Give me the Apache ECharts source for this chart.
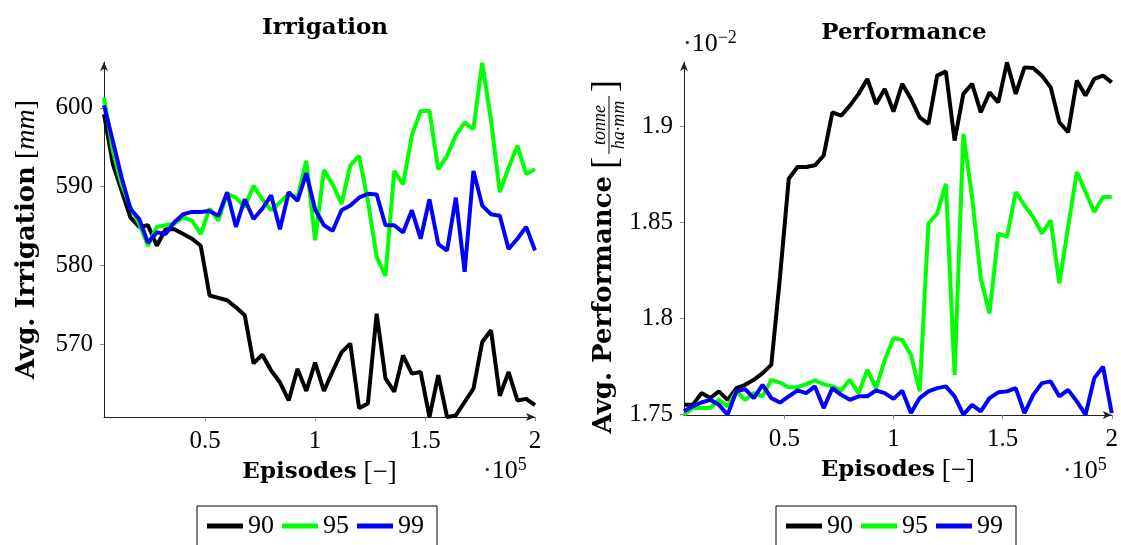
<!DOCTYPE html>
<html>
<head>
<meta charset="utf-8">
<script src="https://cdn.jsdelivr.net/npm/echarts@6/dist/echarts.min.js"></script>
<style>
  html, body { margin: 0; padding: 0; background: #fff; }
  #main { width: 1121px; height: 545px; }
</style>
</head>
<body>
<div id="main"></div>
<script>
// episodes in thousands
var episodes = [4, 8, 12, 16, 20, 24, 28, 32, 36, 40, 44, 48, 52, 56, 60, 64, 68, 72, 76, 80,
  84, 88, 92, 96, 100, 104, 108, 112, 116, 120, 124, 128, 132, 136, 140, 144, 148, 152, 156, 160,
  164, 168, 172, 176, 180, 184, 188, 192, 196, 200];
var seriesNames = ['90', '95', '99'];
var colors = ['#000000', '#00ff00', '#0000ff'];
var xTicks = [50, 100, 150, 200];
var irrTicks = [570, 580, 590, 600];
var perfTicks = [1.75, 1.8, 1.85, 1.9];

var irr90 = [599.2, 592.9, 589.5, 586.1, 584.9, 585.1, 582.5, 584.6, 584.6, 584.0, 583.4, 582.5, 576.2, 575.9, 575.6, 574.7, 573.7, 567.6, 568.7, 566.7,
  565.2, 562.9, 566.9, 564.1, 567.7, 564.1, 566.6, 569.0, 570.1, 561.9, 562.5, 573.9, 565.7, 564.0, 568.6, 566.3, 566.5, 560.8, 566.1, 560.8,
  561.0, 562.7, 564.4, 570.3, 571.8, 563.5, 566.5, 562.9, 563.1, 562.3];
var irr95 = [601.3, 594.6, 590.3, 587.4, 585.3, 582.5, 584.9, 585.1, 585.3, 586.1, 585.7, 584.0, 587.2, 585.7, 589.1, 588.6, 587.4, 590.1, 588.4, 587.0,
  588.0, 589.1, 588.6, 593.3, 583.2, 592.1, 590.3, 587.8, 592.7, 593.9, 588.2, 581.1, 578.7, 592.0, 590.3, 596.5, 599.6, 599.6, 592.2, 593.9,
  596.5, 598.1, 597.3, 605.7, 598.4, 589.3, 592.4, 595.2, 591.6, 592.2];
var irr99 = [600.3, 595.8, 591.2, 587.2, 585.9, 582.9, 584.2, 584.0, 585.5, 586.5, 586.8, 586.8, 586.9, 586.3, 589.3, 584.9, 588.4, 585.9, 587.2, 588.9,
  584.6, 589.3, 588.2, 591.7, 587.1, 585.1, 584.4, 587.0, 587.6, 588.6, 589.1, 589.0, 585.1, 585.1, 584.2, 587.0, 583.4, 588.4, 582.7, 581.9,
  588.6, 579.2, 592.0, 587.6, 586.5, 586.3, 582.1, 583.4, 584.9, 581.9];

var perf90 = [1.7551, 1.7551, 1.7612, 1.7586, 1.7621, 1.7577, 1.7638, 1.7655, 1.7681, 1.7716, 1.7759, 1.8218, 1.8728, 1.8789, 1.8789, 1.8798, 1.8849, 1.9074, 1.9057, 1.9109,
  1.9170, 1.9248, 1.9118, 1.9196, 1.9078, 1.9222, 1.9144, 1.9048, 1.9014, 1.9265, 1.9287, 1.8927, 1.9170, 1.9222, 1.9074, 1.9178, 1.9126, 1.9334, 1.9170, 1.9308,
  1.9305, 1.9265, 1.9204, 1.9022, 1.8970, 1.9239, 1.9161, 1.9248, 1.9265, 1.9230];
var perf95 = [1.7500, 1.7534, 1.7534, 1.7534, 1.7577, 1.7543, 1.7621, 1.7577, 1.7612, 1.7595, 1.7681, 1.7667, 1.7643, 1.7643, 1.7659, 1.7678, 1.7659, 1.7647, 1.7626, 1.7681,
  1.7612, 1.7733, 1.7638, 1.7785, 1.7898, 1.7889, 1.7811, 1.7621, 1.8495, 1.8547, 1.8702, 1.7707, 1.8962, 1.8633, 1.8209, 1.8027, 1.8443, 1.8425, 1.8659, 1.8590,
  1.8529, 1.8443, 1.8512, 1.8183, 1.8477, 1.8763, 1.8659, 1.8555, 1.8633, 1.8633];
var perf99 = [1.7517, 1.7543, 1.7563, 1.7577, 1.7551, 1.7500, 1.7621, 1.7633, 1.7586, 1.7655, 1.7586, 1.7563, 1.7595, 1.7626, 1.7612, 1.7647, 1.7534, 1.7638, 1.7603, 1.7577,
  1.7595, 1.7595, 1.7626, 1.7612, 1.7582, 1.7624, 1.7508, 1.7586, 1.7621, 1.7638, 1.7647, 1.7595, 1.7500, 1.7551, 1.7517, 1.7586, 1.7616, 1.7621, 1.7638, 1.7508,
  1.7603, 1.7664, 1.7673, 1.7595, 1.7629, 1.7569, 1.7500, 1.7690, 1.7750, 1.7508];

var serif = "'Liberation Serif', 'DejaVu Serif', serif";
var boldSerif = "'DejaVu Serif', 'Liberation Serif', serif";

function pairs(ys) {
  return episodes.map(function (x, i) { return [x, ys[i]]; });
}

function xAxisFor(idx) {
  return {
    type: 'value', gridIndex: idx, min: 4, max: 200,
    name: '{b|Episodes} [\u2212]', nameLocation: 'middle', nameGap: 42,
    nameTextStyle: { fontFamily: serif, fontSize: 27, color: '#000',
      rich: { b: { fontFamily: boldSerif, fontSize: 23, fontWeight: 'bold', color: '#000' } } },
    splitLine: { show: false },
    axisLine: { lineStyle: { color: '#222', width: 1 }, symbol: ['none', 'arrow'], symbolSize: [6, 9] },
    axisTick: { customValues: xTicks, length: 4, lineStyle: { color: '#888' } },
    axisLabel: { customValues: xTicks, fontFamily: serif, fontSize: 25, color: '#000', margin: 12,
      formatter: function (v) { return String(v / 100); } }
  };
}

function yAxisFor(idx, lo, hi, ticks, name) {
  return {
    type: 'value', gridIndex: idx, min: lo, max: hi,
    name: name, nameLocation: 'middle', nameGap: 63, nameRotate: 90,
    nameTextStyle: { fontFamily: serif, fontSize: 28, color: '#000',
      rich: { b: { fontFamily: boldSerif, fontSize: 26, fontWeight: 'bold', color: '#000' },
        i: { fontFamily: serif, fontSize: 28, fontStyle: 'italic', color: '#000' } } },
    splitLine: { show: false },
    axisLine: { show: true, lineStyle: { color: '#222', width: 1 }, symbol: ['none', 'arrow'], symbolSize: [6, 9] },
    axisTick: { show: true, customValues: ticks, length: 4, lineStyle: { color: '#888' } },
    axisLabel: { customValues: ticks, fontFamily: serif, fontSize: 25, color: '#000', margin: 11,
      formatter: function (v) { return String(+v.toFixed(2)); } }
  };
}

var irrData = [irr90, irr95, irr99];
var perfData = [perf90, perf95, perf99];
var series = [];
seriesNames.forEach(function (n, k) {
  series.push({ name: n, type: 'line', xAxisIndex: 0, yAxisIndex: 0, data: pairs(irrData[k]),
    showSymbol: false, symbol: 'none', lineStyle: { width: 4, color: colors[k] }, itemStyle: { color: colors[k] } });
});
seriesNames.forEach(function (n, k) {
  series.push({ name: n, type: 'line', xAxisIndex: 1, yAxisIndex: 1, data: pairs(perfData[k]),
    showSymbol: false, symbol: 'none', lineStyle: { width: 4, color: colors[k] }, itemStyle: { color: colors[k] } });
});

function legendAt(left) {
  return {
    data: seriesNames, left: left, top: 506, orient: 'horizontal',
    icon: 'rect', itemWidth: 36, itemHeight: 5, itemGap: 8,
    padding: [7, 13, 20, 10], borderColor: '#000', borderWidth: 1, borderRadius: 0,
    textStyle: { fontFamily: serif, fontSize: 26, color: '#000' }
  };
}

var supStyle = { fontFamily: serif, fontSize: 18, color: '#000', verticalAlign: 'top', padding: [0, 0, 12, 0] };

var option = {
  backgroundColor: '#fff',
  animation: false,
  title: [
    { text: 'Irrigation', left: 320, top: 12, textAlign: 'center',
      textStyle: { fontFamily: boldSerif, fontSize: 23, fontWeight: 'bold', color: '#000' } },
    { text: 'Performance', left: 899, top: 17, textAlign: 'center',
      textStyle: { fontFamily: boldSerif, fontSize: 23, fontWeight: 'bold', color: '#000' } }
  ],
  legend: [legendAt(197), legendAt(776)],
  grid: [
    { left: 104, top: 62, width: 431, height: 355, containLabel: false },
    { left: 684, top: 62, width: 429, height: 353, containLabel: false }
  ],
  xAxis: [xAxisFor(0), xAxisFor(1)],
  yAxis: [
    yAxisFor(0, 560.8, 605.8, irrTicks, '{b|Avg. Irrigation} [{i|mm}]'),
    yAxisFor(1, 1.7498, 1.9336, perfTicks, '')
  ],
  graphic: [
    { type: 'text', left: 483, top: 456, style: { text: '\u00b710{s|5}', fontFamily: serif, fontSize: 26, fill: '#000', rich: { s: supStyle } } },
    { type: 'text', left: 1063, top: 456, style: { text: '\u00b710{s|5}', fontFamily: serif, fontSize: 26, fill: '#000', rich: { s: supStyle } } },
    { type: 'text', left: 683, top: 29, style: { text: '\u00b710{s|\u22122}', fontFamily: serif, fontSize: 26, fill: '#000', rich: { s: supStyle } } },
    {
      type: 'group', x: 604, y: 254, rotation: Math.PI / 2,
      children: [
        { type: 'text', x: 78, y: 0, style: { text: 'Avg. Performance', fontFamily: boldSerif, fontSize: 26, fontWeight: 'bold', fill: '#000', verticalAlign: 'middle', align: 'right' } },
        { type: 'text', x: 91, y: 3, style: { text: '[', fontFamily: serif, fontSize: 36, fill: '#000', verticalAlign: 'middle', align: 'center' } },
        { type: 'text', x: 129, y: -4, style: { text: 'tonne', fontFamily: serif, fontSize: 18, fontStyle: 'italic', fill: '#000', verticalAlign: 'middle', align: 'center' } },
        { type: 'line', shape: { x1: 100, y1: 5, x2: 158, y2: 5 }, style: { stroke: '#000', lineWidth: 1 } },
        { type: 'text', x: 129, y: 15, style: { text: 'ha\u00b7mm', fontFamily: serif, fontSize: 18, fontStyle: 'italic', fill: '#000', verticalAlign: 'middle', align: 'center' } },
        { type: 'text', x: 168, y: 3, style: { text: ']', fontFamily: serif, fontSize: 36, fill: '#000', verticalAlign: 'middle', align: 'center' } }
      ]
    }
  ],
  series: series
};

var chart = echarts.init(document.getElementById('main'));
chart.setOption(option);
</script>
</body>
</html>
